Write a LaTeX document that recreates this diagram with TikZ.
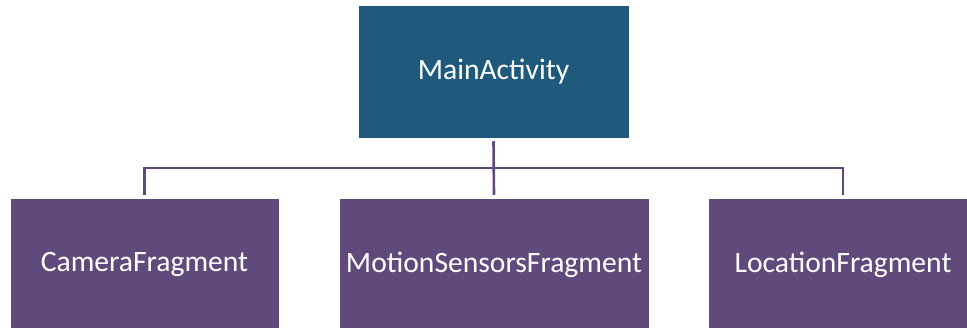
\documentclass[tikz,border=0pt]{standalone}
\usepackage{fontspec}
\setmainfont{Carlito}
\definecolor{topblue}{HTML}{1F5A7D}
\definecolor{fragpurple}{HTML}{604A7B}
\begin{document}
\begin{tikzpicture}[x=1pt,y=-1pt,
  box/.style={draw=white, line width=0.5pt, inner sep=0pt, text=white, font=\fontsize{29.6}{34}\selectfont},
  conn/.style={draw=fragpurple, line width=2.6pt}]
\useasboundingbox (0,0) rectangle (967,327);
\node[box, fill=topblue, minimum width=271pt, minimum height=133pt] (main) at (493.5,71.5) {MainActivity};
\node[box, fill=fragpurple, minimum width=269pt, minimum height=133pt] (cam) at (144.5,264.5) {CameraFragment};
\node[box, fill=fragpurple, minimum width=310pt, minimum height=133pt] (mot) at (494,264.5) {MotionSensorsFragment};
\node[box, fill=fragpurple, minimum width=270pt, minimum height=133pt] (loc) at (843,264.5) {LocationFragment};
\coordinate (bus) at (493.5,168);
\draw[conn] ([yshift=-3pt]main.south) -- ([yshift=3pt]mot.north);
\draw[conn] ([yshift=3pt]cam.north) |- (bus) -| ([yshift=3pt]loc.north);
\end{tikzpicture}
\end{document}
